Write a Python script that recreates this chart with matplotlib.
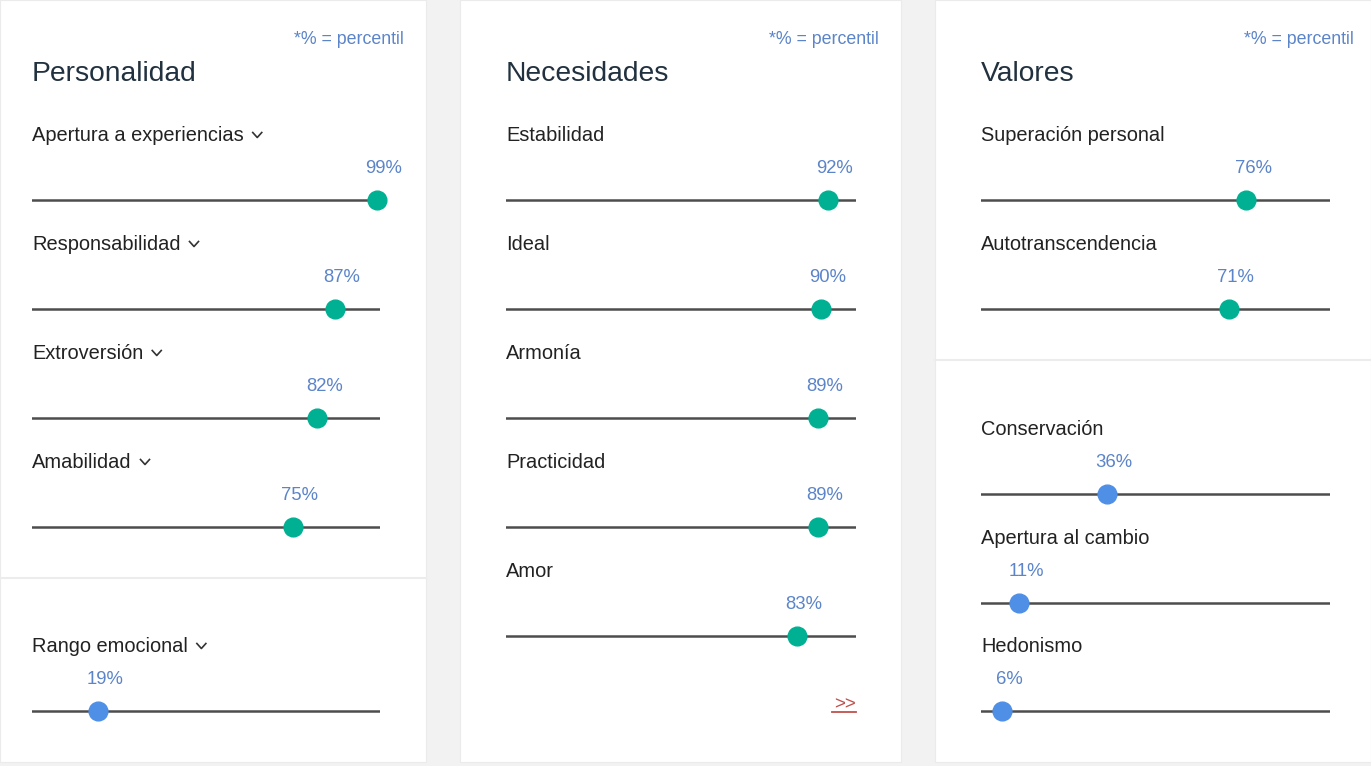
import matplotlib
matplotlib.use('Agg')
import matplotlib.pyplot as plt
from matplotlib.patches import Rectangle
from matplotlib.lines import Line2D

W, H = 1371, 766

pers_labels = ['Apertura a experiencias', 'Responsabilidad', 'Extroversión', 'Amabilidad']
pers_values = [99, 87, 82, 75]
rango_labels = ['Rango emocional']
rango_values = [19]
nec_labels = ['Estabilidad', 'Ideal', 'Armonía', 'Practicidad', 'Amor']
nec_values = [92, 90, 89, 89, 83]
val_labels = ['Superación personal', 'Autotranscendencia']
val_values = [76, 71]
val_low_labels = ['Conservación', 'Apertura al cambio', 'Hedonismo']
val_low_values = [36, 11, 6]

titles = ['Personalidad', 'Necesidades', 'Valores']
note = '*% = percentil'

TEAL = '#00b092'
BLUE = '#4f8fe6'
PCT = '#5b84c9'
TRACK = '#4d4d4d'
FONT = 'Liberation Sans'

plt.rcParams['font.family'] = [FONT, 'DejaVu Sans']

fig = plt.figure(figsize=(W / 100, H / 100), dpi=100)
fig.patch.set_facecolor('#f2f2f2')


def fx(x):
    return x / W


def fy(y):
    return 1 - y / H


# white panels, drawn behind everything else
panels = [(0, 426), (460, 901), (935, 1371)]
for x0, x1 in panels:
    fig.patches.append(Rectangle((fx(x0), fy(762)), fx(x1 - x0), 762 / H,
                                 transform=fig.transFigure, facecolor='white',
                                 edgecolor='#ebebeb', linewidth=0.8, zorder=-5))

# separators
fig.add_artist(Line2D([fx(0), fx(426)], [fy(578), fy(578)], color='#ececec', lw=1.5, zorder=-4))
fig.add_artist(Line2D([fx(935), fx(1371)], [fy(360), fy(360)], color='#ececec', lw=1.5, zorder=-4))

# titles and notes
title_x = [32, 506, 981]
note_x = [404, 879, 1354]
for t, tx, nx in zip(titles, title_x, note_x):
    fig.text(fx(tx), fy(81), t, fontsize=20.3, color='#22313f', va='baseline', ha='left')
    fig.text(fx(nx), fy(44), note, fontsize=12.8, color=PCT, va='baseline', ha='right')

renderer = fig.canvas.get_renderer()


def slider(x0, x1, track_y, label, value, color, chevron=False):
    txt = fig.text(fx(x0), fy(track_y - 59), label, fontsize=14.4, color='#222222',
                   va='baseline', ha='left')
    if chevron:
        bb = txt.get_window_extent(renderer)
        cx = bb.x1 + 9
        cy = track_y - 65
        fig.add_artist(Line2D([fx(cx), fx(cx + 4.5), fx(cx + 9)],
                              [fy(cy - 2.5), fy(cy + 2.5), fy(cy - 2.5)],
                              color='#333333', lw=1.2))
    ax = fig.add_axes([fx(x0), fy(track_y + 15), fx(x1 - x0), 30 / H])
    ax.set_xlim(0, 100)
    ax.set_ylim(-1, 1)
    ax.axis('off')
    ax.axhline(0, color=TRACK, lw=1.8, zorder=1)
    ax.plot([value], [0], 'o', color=color, markersize=13.5, zorder=3, clip_on=False)
    ax.annotate(f'{value}%', (value, 0), xytext=(5, 19.5), textcoords='offset points',
                ha='center', va='baseline', fontsize=13.3, color=PCT,
                annotation_clip=False)


rows = [200, 309, 418, 527, 636]
for lab, v, y in zip(pers_labels, pers_values, rows):
    slider(32, 380, y, lab, v, TEAL, chevron=True)
for lab, v in zip(rango_labels, rango_values):
    slider(32, 380, 711, lab, v, BLUE, chevron=True)
for lab, v, y in zip(nec_labels, nec_values, rows):
    slider(506, 856, y, lab, v, TEAL)
for lab, v, y in zip(val_labels, val_values, rows):
    slider(981, 1330, y, lab, v, TEAL)
for lab, v, y in zip(val_low_labels, val_low_values, [494, 603, 711]):
    slider(981, 1330, y, lab, v, BLUE)

# link
fig.text(fx(856), fy(709), '>>', fontsize=13.5, color='#c0504d', ha='right', va='baseline')
fig.add_artist(Line2D([fx(832), fx(856)], [fy(712), fy(712)], color='#c0504d', lw=1.3))

fig.savefig('out.png', dpi=100, facecolor=fig.get_facecolor())
